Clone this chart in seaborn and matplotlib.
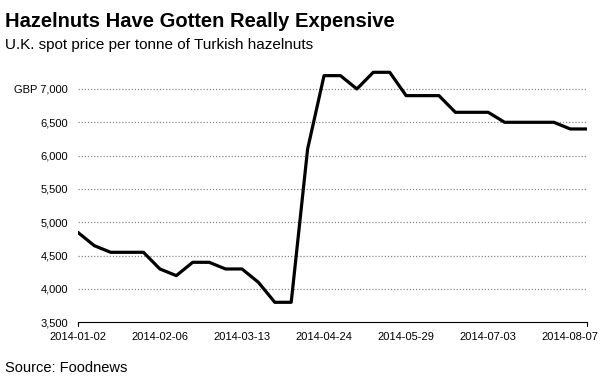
import numpy as np
import pandas as pd
import matplotlib
matplotlib.use("Agg")
import matplotlib.pyplot as plt
import seaborn as sns

# weekly spot prices (GBP per tonne), week of 2014-04-17 missing in the source
dates = ["2014-01-02", "2014-01-09", "2014-01-16", "2014-01-23", "2014-01-30",
         "2014-02-06", "2014-02-13", "2014-02-20", "2014-02-27", "2014-03-06",
         "2014-03-13", "2014-03-20", "2014-03-27", "2014-04-03", "2014-04-10",
         "2014-04-24", "2014-05-01", "2014-05-08", "2014-05-15", "2014-05-22",
         "2014-05-29", "2014-06-05", "2014-06-12", "2014-06-19", "2014-06-26",
         "2014-07-03", "2014-07-10", "2014-07-17", "2014-07-24", "2014-07-31",
         "2014-08-07", "2014-08-14"]
prices = [4850, 4650, 4550, 4550, 4550, 4300, 4200, 4400, 4400, 4300,
          4300, 4100, 3800, 3800, 6100, 7200, 7200, 7000, 7250, 7250,
          6900, 6900, 6900, 6650, 6650, 6650, 6500, 6500, 6500, 6500,
          6400, 6400]
yticks = [3500, 4000, 4500, 5000, 5500, 6000, 6500, 7000]
ytick_labels = ["3,500", "4,000", "4,500", "5,000", "5,500", "6,000", "6,500", "GBP 7,000"]

df = pd.DataFrame({"idx": np.arange(len(dates)), "date": dates, "price": prices})

sns.set_style("white")
plt.rcParams["font.family"] = ["Liberation Sans", "DejaVu Sans"]
plt.rcParams["text.color"] = "black"

fig = plt.figure(figsize=(6.01, 3.78), dpi=100)
W, H = 601, 378
left, right, bottom_px, top_px = 77.8, 586.7, 322.3, 69.0
ax = fig.add_axes([left / W, 1 - bottom_px / H, (right - left) / W, (bottom_px - top_px) / H])

sns.lineplot(data=df, x="idx", y="price", ax=ax, color="black", linewidth=2.3)

ax.set_xlim(0, len(dates) - 1)
ax.set_ylim(3500, 3500 + (bottom_px - top_px) / 0.066667)

# dotted gridlines
for v in yticks[1:]:
    ax.axhline(v, color="#888888", linestyle=(0, (1, 1.5)), linewidth=0.9, zorder=0)

ax.set_yticks(yticks)
ax.set_yticklabels(ytick_labels)
xt = list(range(0, 31, 5))
ax.set_xticks(xt)
ax.set_xticklabels([dates[i] for i in xt])
ax.tick_params(axis="both", length=0, labelsize=8, colors="black")
ax.tick_params(axis="y", pad=7)
ax.tick_params(axis="x", pad=7)
ax.set_xlabel("")
ax.set_ylabel("")

for s in ["top", "right", "left"]:
    ax.spines[s].set_visible(False)
ax.spines["bottom"].set_color("black")
ax.spines["bottom"].set_linewidth(0.8)

# end ticks on the bottom axis
for xe in [0, len(dates) - 1]:
    ax.plot([xe, xe], [0, -0.016], transform=ax.get_xaxis_transform(),
            color="black", linewidth=0.8, clip_on=False)

fig.text(5 / W, 1 - 27 / H, "Hazelnuts Have Gotten Really Expensive",
         fontsize=14.5, fontweight="bold", color="black", ha="left", va="baseline")
fig.text(5 / W, 1 - 49 / H, "U.K. spot price per tonne of Turkish hazelnuts",
         fontsize=11, color="black", ha="left", va="baseline")
fig.text(5 / W, 1 - 372 / H, "Source: Foodnews",
         fontsize=10.5, color="black", ha="left", va="baseline")

fig.savefig("out.png", dpi=100)
